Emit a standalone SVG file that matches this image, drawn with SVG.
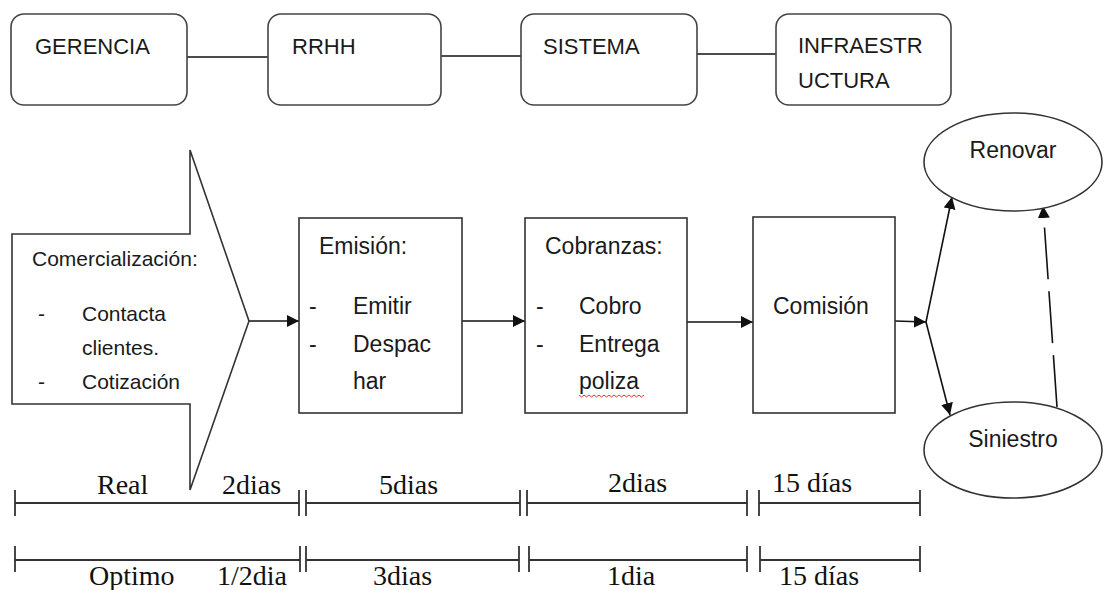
<svg xmlns="http://www.w3.org/2000/svg" width="1104" height="590" viewBox="0 0 1104 590">
<style>
.box{fill:#fff;stroke:#333;stroke-width:1.6}
.rbox{fill:#fff;stroke:#444;stroke-width:1.6}
.t{font-family:"Liberation Sans",Arial,sans-serif;fill:#1a1a1a}
.top{font-size:22px}
.body{font-size:23px}
.small{font-size:21px}
.tm{font-family:"Liberation Serif","Times New Roman",serif;font-size:28px;fill:#111}
.conn{stroke:#111;stroke-width:1.6;fill:none}
.tl{stroke:#333;stroke-width:1.8;fill:none}
</style>
<defs>
<marker id="ahb" viewBox="0 0 10 10" refX="10" refY="5" markerWidth="12" markerHeight="12" markerUnits="userSpaceOnUse" orient="auto">
<path d="M0,0 L10,5 L0,10 z" fill="#111"/>
</marker>
</defs>
<rect width="1104" height="590" fill="#fff"/>

<g id="connectors">
<line class="conn" x1="187" y1="57" x2="268" y2="57"/>
<line class="conn" x1="441" y1="56" x2="521" y2="56"/>
<line class="conn" x1="697" y1="54" x2="776" y2="54"/>
<line class="conn" x1="249" y1="321" x2="299" y2="321" marker-end="url(#ahb)"/>
<line class="conn" x1="462" y1="321" x2="525" y2="321" marker-end="url(#ahb)"/>
<line class="conn" x1="687" y1="322" x2="753" y2="322" marker-end="url(#ahb)"/>
<line class="conn" x1="895" y1="321" x2="926" y2="322" marker-end="url(#ahb)"/>
<line class="conn" x1="926" y1="322" x2="952" y2="197" marker-end="url(#ahb)"/>
<line class="conn" x1="926" y1="322" x2="950" y2="415" marker-end="url(#ahb)"/>
<line class="conn" x1="1057" y1="407" x2="1043" y2="206" stroke-dasharray="52 12" marker-end="url(#ahb)"/>
</g>

<g id="gerencia">
<rect class="rbox" x="11" y="14" width="176" height="91" rx="13"/>
<text class="t top" x="35" y="54">GERENCIA</text>
</g>
<g id="rrhh">
<rect class="rbox" x="268" y="14" width="173" height="91" rx="13"/>
<text class="t top" x="292" y="54">RRHH</text>
</g>
<g id="sistema">
<rect class="rbox" x="521" y="14" width="176" height="91" rx="13"/>
<text class="t top" x="543" y="54">SISTEMA</text>
</g>
<g id="infraestructura">
<rect class="rbox" x="776" y="14" width="175" height="91" rx="13"/>
<text class="t top" x="798" y="53">INFRAESTR</text>
<text class="t top" x="798" y="88">UCTURA</text>
</g>

<g id="comercializacion">
<polygon class="box" points="12,234 190,234 190,150 249,321 190,490 190,404 12,404"/>
<text class="t small" x="32" y="266">Comercialización:</text>
<text class="t small" x="38" y="321">-</text>
<text class="t small" x="82" y="321">Contacta</text>
<text class="t small" x="82" y="355">clientes.</text>
<text class="t small" x="38" y="389">-</text>
<text class="t small" x="82" y="389">Cotización</text>
</g>

<g id="emision">
<rect class="box" x="299" y="218" width="163" height="195"/>
<text class="t body" x="319" y="254">Emisión:</text>
<text class="t body" x="309" y="314">-</text>
<text class="t body" x="353" y="314">Emitir</text>
<text class="t body" x="309" y="352">-</text>
<text class="t body" x="353" y="352">Despac</text>
<text class="t body" x="353" y="389">har</text>
</g>

<g id="cobranzas">
<rect class="box" x="525" y="218" width="162" height="195"/>
<text class="t body" x="545" y="254">Cobranzas:</text>
<text class="t body" x="536" y="314">-</text>
<text class="t body" x="579" y="314">Cobro</text>
<text class="t body" x="536" y="352">-</text>
<text class="t body" x="579" y="352">Entrega</text>
<text class="t body" x="579" y="389">poliza</text>
<path d="M579,395 l2.5,2 l2.5,-2 l2.5,2 l2.5,-2 l2.5,2 l2.5,-2 l2.5,2 l2.5,-2 l2.5,2 l2.5,-2 l2.5,2 l2.5,-2 l2.5,2 l2.5,-2 l2.5,2 l2.5,-2 l2.5,2 l2.5,-2 l2.5,2 l2.5,-2 l2.5,2 l2.5,-2 l2.5,2 l2.5,-2 l2.5,2 l2.5,-2" fill="none" stroke="#e03030" stroke-width="1"/>
</g>

<g id="comision">
<rect class="box" x="753" y="217" width="142" height="196"/>
<text class="t body" x="773" y="314">Comisión</text>
</g>

<g id="renovar">
<ellipse class="box" cx="1013" cy="162" rx="89" ry="49"/>
<text class="t body" x="1013" y="158" text-anchor="middle">Renovar</text>
</g>

<g id="siniestro">
<ellipse class="box" cx="1013" cy="450" rx="89" ry="48"/>
<text class="t body" x="1013" y="447" text-anchor="middle">Siniestro</text>
</g>

<g id="timeline">
<path class="tl" d="M15,503 H299 M306,503 H520 M527,503 H747 M759,503 H920"/>
<path class="tl" d="M15,490 V516 M299,490 V516 M306,490 V516 M520,490 V516 M527,490 V516 M747,490 V516 M759,490 V516 M920,490 V516"/>
<path class="tl" d="M15,560 H300 M306,560 H519 M529,560 H747 M760,560 H920"/>
<path class="tl" d="M15,546 V572 M300,546 V572 M306,546 V572 M519,546 V572 M529,546 V572 M747,546 V572 M760,546 V572 M920,546 V572"/>
<text class="tm" x="97" y="494">Real</text>
<text class="tm" x="222" y="494">2dias</text>
<text class="tm" x="379" y="494">5dias</text>
<text class="tm" x="608" y="492">2dias</text>
<text class="tm" x="772" y="492">15 días</text>
<text class="tm" x="89" y="585">Optimo</text>
<text class="tm" x="217" y="585">1/2dia</text>
<text class="tm" x="373" y="585">3dias</text>
<text class="tm" x="607" y="585">1dia</text>
<text class="tm" x="779" y="585">15 días</text>
</g>
</svg>
